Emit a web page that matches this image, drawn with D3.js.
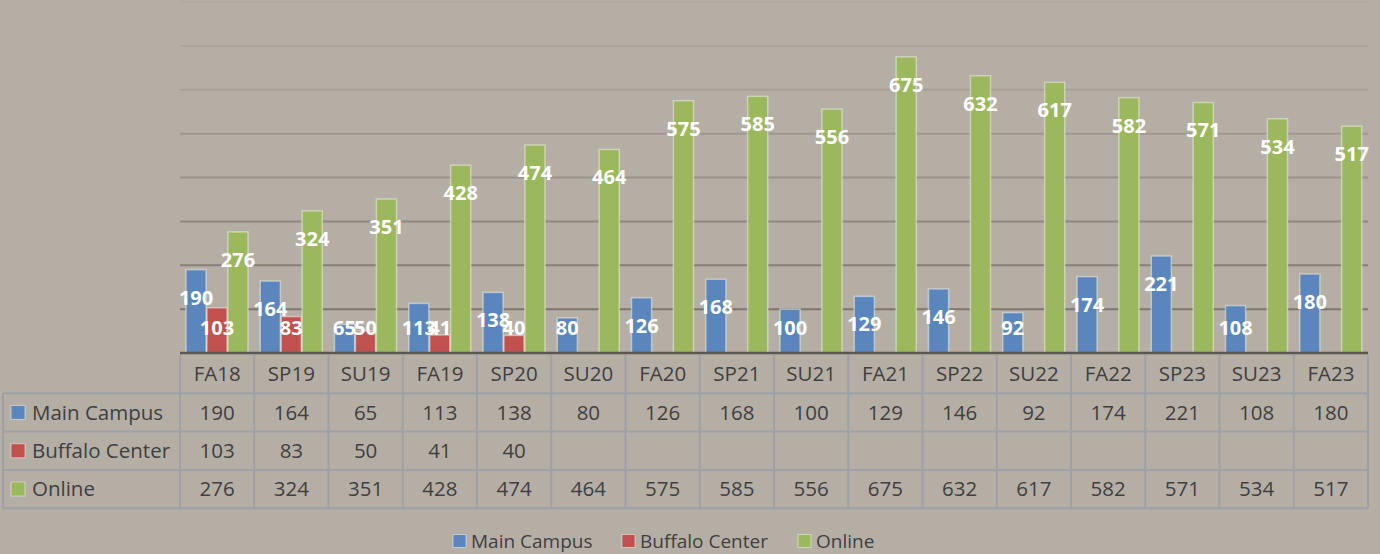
<!DOCTYPE html>
<html>
<head>
<meta charset="utf-8">
<script src="https://cdn.jsdelivr.net/npm/d3@7"></script>
<style>
  html, body { margin: 0; padding: 0; background: #b5aea5; }
  svg { display: block; font-family: "Open Sans", sans-serif; }
</style>
</head>
<body>
<svg id="chart" width="1380" height="554"></svg>
<script>
// data
var terms = ["FA18", "SP19", "SU19", "FA19", "SP20", "SU20", "FA20", "SP21",
  "SU21", "FA21", "SP22", "SU22", "FA22", "SP23", "SU23", "FA23"];
var seriesNames = ["Main Campus", "Buffalo Center", "Online"];
var mainCampus = [190, 164, 65, 113, 138, 80, 126, 168, 100, 129, 146, 92, 174, 221, 108, 180];
var buffaloCenter = [103, 83, 50, 41, 40, null, null, null, null, null, null, null, null, null, null, null];
var online = [276, 324, 351, 428, 474, 464, 575, 585, 556, 675, 632, 617, 582, 571, 534, 517];
var yTicks = [0, 100, 200, 300, 400, 500, 600, 700, 800];
var colors = ["#5a86bd", "#c0514e", "#9bb95c"];

var series = [mainCampus, buffaloCenter, online];

var svg = d3.select("#chart"),
  plotLeft = 180, plotRight = 1368, plotTop = 2, base = 353,
  tableTop = 355, rowH = 38.3, labelLeft = 3,
  textColor = "#404040", borderColor = "#9da1a7";

var x = d3.scaleBand().domain(terms).range([plotLeft, plotRight]),
  x1 = d3.scaleBand().domain(d3.range(series.length)).range([6, 68]).paddingInner(0.04),
  y = d3.scaleLinear().domain([0, 800]).range([base, plotTop]);

// gridlines, fading toward the top
svg.append("g")
  .selectAll("line")
  .data(yTicks.filter(function(d){ return d > 0; }))
  .join("line")
    .attr("x1", plotLeft).attr("x2", plotRight)
    .attr("y1", function(d){ return y(d); })
    .attr("y2", function(d){ return y(d); })
    .attr("stroke", "#6c6660")
    .attr("stroke-width", 2)
    .attr("stroke-opacity", function(d){ return 0.05 + 0.85 * Math.pow(1 - d / 800, 1.3); });

// bars
var group = svg.append("g")
  .selectAll("g")
  .data(terms)
  .join("g")
    .attr("transform", function(d){ return "translate(" + x(d) + ",0)"; });

var cells = function(d, i){
  return series.map(function(s, k){ return {k: k, v: s[i]}; })
    .filter(function(c){ return c.v != null; });
};

group.selectAll("rect")
  .data(cells)
  .join("rect")
    .attr("x", function(d){ return x1(d.k); })
    .attr("width", x1.bandwidth())
    .attr("y", function(d){ return y(d.v); })
    .attr("height", function(d){ return base - y(d.v); })
    .attr("fill", function(d){ return colors[d.k]; })
    .attr("stroke", "rgba(235,235,225,0.55)")
    .attr("stroke-width", 1.5);

// value labels, inside end, pushed up off the axis for short bars
group.selectAll("text")
  .data(cells)
  .join("text")
    .attr("x", function(d){ return x1(d.k) + x1.bandwidth() / 2; })
    .attr("y", function(d){ return Math.min(y(d.v) + 28, 328); })
    .attr("dy", "0.35em")
    .attr("text-anchor", "middle")
    .attr("fill", "#fff")
    .attr("font-weight", "bold")
    .attr("font-size", 20)
    .text(function(d){ return d.v; });

// axis line
svg.append("line")
  .attr("x1", plotLeft).attr("x2", plotRight)
  .attr("y1", base).attr("y2", base)
  .attr("stroke", "#5a5652")
  .attr("stroke-width", 2.5);

// data table
var table = svg.append("g").attr("fill", textColor).attr("font-size", 20.5),
  tableBottom = tableTop + rowH * 4;

var hline = function(yy, x0){
  table.append("line")
    .attr("x1", x0).attr("x2", plotRight)
    .attr("y1", yy).attr("y2", yy)
    .attr("stroke", borderColor).attr("stroke-width", 2);
};
hline(tableTop + rowH, labelLeft);
hline(tableTop + rowH * 2, labelLeft);
hline(tableTop + rowH * 3, labelLeft);
hline(tableBottom, labelLeft);

table.selectAll("line.col")
  .data(terms.map(function(d){ return x(d); }).concat([plotRight]))
  .join("line")
    .attr("class", "col")
    .attr("x1", function(d){ return d; }).attr("x2", function(d){ return d; })
    .attr("y1", tableTop).attr("y2", tableBottom)
    .attr("stroke", borderColor).attr("stroke-width", 2);

table.append("line")
  .attr("x1", labelLeft).attr("x2", labelLeft)
  .attr("y1", tableTop + rowH).attr("y2", tableBottom)
  .attr("stroke", borderColor).attr("stroke-width", 2);

table.selectAll("text.term")
  .data(terms)
  .join("text")
    .attr("class", "term")
    .attr("x", function(d){ return x(d) + x.bandwidth() / 2; })
    .attr("y", tableTop + rowH / 2)
    .attr("dy", "0.35em")
    .attr("text-anchor", "middle")
    .text(function(d){ return d; });

var rows = table.selectAll("g.row")
  .data(series)
  .join("g")
    .attr("class", "row")
    .attr("transform", function(d, k){ return "translate(0," + (tableTop + rowH * (k + 1.5)) + ")"; });

rows.append("rect")
  .attr("x", 11).attr("y", -7).attr("width", 14).attr("height", 14)
  .attr("fill", function(d, k){ return colors[k]; })
  .attr("stroke", "rgba(235,235,225,0.6)");

rows.append("text")
  .attr("x", 32).attr("dy", "0.35em")
  .text(function(d, k){ return seriesNames[k]; });

rows.selectAll("text.val")
  .data(function(d){ return d.map(function(v, i){ return {v: v, t: terms[i]}; }); })
  .join("text")
    .attr("class", "val")
    .attr("x", function(d){ return x(d.t) + x.bandwidth() / 2; })
    .attr("dy", "0.35em")
    .attr("text-anchor", "middle")
    .text(function(d){ return d.v == null ? "" : d.v; });

// legend
var legendX = [453, 622, 798];
var legend = svg.append("g")
  .attr("font-size", 19)
  .attr("fill", textColor)
  .selectAll("g")
  .data(seriesNames)
  .join("g")
    .attr("transform", function(d, k){ return "translate(" + legendX[k] + ",541)"; });

legend.append("rect")
  .attr("x", 0).attr("y", -6.5).attr("width", 13).attr("height", 13)
  .attr("fill", function(d, k){ return colors[k]; })
  .attr("stroke", "rgba(235,235,225,0.6)");

legend.append("text")
  .attr("x", 18).attr("dy", "0.35em")
  .text(function(d){ return d; });
</script>
</body>
</html>
